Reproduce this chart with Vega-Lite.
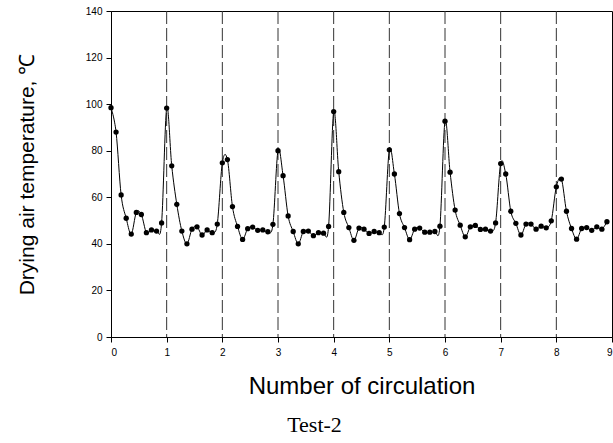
{
  "$schema": "https://vega.github.io/schema/vega-lite/v6.json",
  "width": 501,
  "height": 326,
  "autosize": {"type": "none"},
  "padding": {"left": 111, "top": 11, "right": 1, "bottom": 106},
  "background": "white",
  "config": {
    "view": {"stroke": "black", "strokeWidth": 1},
    "axis": {
      "grid": false,
      "domainColor": "black",
      "tickColor": "black",
      "labelColor": "black",
      "titleColor": "black",
      "labelFont": "Liberation Sans",
      "titleFont": "Liberation Sans",
      "labelFontSize": 10,
      "tickSize": 5,
      "titleFontWeight": "normal"
    }
  },
  "title": {
    "text": "Test-2",
    "orient": "bottom",
    "anchor": "middle",
    "dx": -47,
    "offset": 17,
    "font": "Liberation Serif",
    "fontSize": 22,
    "fontWeight": "normal",
    "color": "black"
  },
  "datasets": {
    "rules": [{"x": 1}, {"x": 2}, {"x": 3}, {"x": 4}, {"x": 5}, {"x": 6}, {"x": 7}, {"x": 8}],
    "temp": [
      {"x": 0, "y": 98.5}, {"x": 0.091, "y": 88}, {"x": 0.182, "y": 61}, {"x": 0.273, "y": 51}, {"x": 0.364, "y": 44.2}, {"x": 0.455, "y": 53.5}, {"x": 0.545, "y": 52.6}, {"x": 0.636, "y": 44.8}, {"x": 0.727, "y": 46}, {"x": 0.818, "y": 45.5}, {"x": 0.909, "y": 49},
      {"x": 1, "y": 98.3}, {"x": 1.091, "y": 73.5}, {"x": 1.182, "y": 57}, {"x": 1.273, "y": 45.5}, {"x": 1.364, "y": 40}, {"x": 1.455, "y": 46.3}, {"x": 1.545, "y": 47.3}, {"x": 1.636, "y": 43.8}, {"x": 1.727, "y": 46}, {"x": 1.818, "y": 44.8}, {"x": 1.909, "y": 48.5},
      {"x": 2, "y": 74.8}, {"x": 2.091, "y": 76.2}, {"x": 2.182, "y": 56}, {"x": 2.273, "y": 47.5}, {"x": 2.364, "y": 41.9}, {"x": 2.455, "y": 46.5}, {"x": 2.545, "y": 47.2}, {"x": 2.636, "y": 45.8}, {"x": 2.727, "y": 46}, {"x": 2.818, "y": 45.2}, {"x": 2.909, "y": 48.4},
      {"x": 3, "y": 80}, {"x": 3.091, "y": 69.3}, {"x": 3.182, "y": 52}, {"x": 3.273, "y": 45.3}, {"x": 3.364, "y": 40}, {"x": 3.455, "y": 45.3}, {"x": 3.545, "y": 45.5}, {"x": 3.636, "y": 43.5}, {"x": 3.727, "y": 44.8}, {"x": 3.818, "y": 44.6}, {"x": 3.909, "y": 47.5},
      {"x": 4, "y": 96.8}, {"x": 4.091, "y": 71}, {"x": 4.182, "y": 53.5}, {"x": 4.273, "y": 47}, {"x": 4.364, "y": 41.5}, {"x": 4.455, "y": 46.8}, {"x": 4.545, "y": 46.3}, {"x": 4.636, "y": 44.5}, {"x": 4.727, "y": 45.3}, {"x": 4.818, "y": 44.8}, {"x": 4.909, "y": 47.2},
      {"x": 5, "y": 80.4}, {"x": 5.091, "y": 70}, {"x": 5.182, "y": 53}, {"x": 5.273, "y": 47}, {"x": 5.364, "y": 41.8}, {"x": 5.455, "y": 46.3}, {"x": 5.545, "y": 46.8}, {"x": 5.636, "y": 45}, {"x": 5.727, "y": 45}, {"x": 5.818, "y": 45.3}, {"x": 5.909, "y": 47.6},
      {"x": 6, "y": 92.7}, {"x": 6.091, "y": 70.8}, {"x": 6.182, "y": 54.5}, {"x": 6.273, "y": 48}, {"x": 6.364, "y": 43}, {"x": 6.455, "y": 47.3}, {"x": 6.545, "y": 47.9}, {"x": 6.636, "y": 46.2}, {"x": 6.727, "y": 46.3}, {"x": 6.818, "y": 45.5}, {"x": 6.909, "y": 49},
      {"x": 7, "y": 74.5}, {"x": 7.091, "y": 70}, {"x": 7.182, "y": 54}, {"x": 7.273, "y": 48.8}, {"x": 7.364, "y": 43.8}, {"x": 7.455, "y": 48.5}, {"x": 7.545, "y": 48.5}, {"x": 7.636, "y": 46.3}, {"x": 7.727, "y": 47.6}, {"x": 7.818, "y": 46.9}, {"x": 7.909, "y": 49.9},
      {"x": 8, "y": 64.5}, {"x": 8.091, "y": 67.8}, {"x": 8.182, "y": 54}, {"x": 8.273, "y": 46.6}, {"x": 8.364, "y": 42}, {"x": 8.455, "y": 46.6}, {"x": 8.545, "y": 47}, {"x": 8.636, "y": 45.8}, {"x": 8.727, "y": 47.3}, {"x": 8.818, "y": 46.3}, {"x": 8.909, "y": 49.5}
    ]
  },
  "layer": [
    {
      "data": {"name": "rules"},
      "mark": {"type": "rule", "strokeDash": [13, 4], "color": "#333333", "strokeWidth": 1},
      "encoding": {
        "x": {"field": "x", "type": "quantitative", "scale": {"domain": [0, 9], "nice": false}, "axis": {"values": [0,1,2,3,4,5,6,7,8,9], "title": "Number of circulation", "titleFontSize": 24, "titlePadding": 17, "labelPadding": 5}}
      }
    },
    {
      "data": {"name": "temp"},
      "mark": {"type": "line", "interpolate": "cardinal", "color": "black", "strokeWidth": 1},
      "encoding": {
        "x": {"field": "x", "type": "quantitative", "scale": {"domain": [0, 9], "nice": false}, "axis": {"values": [0,1,2,3,4,5,6,7,8,9], "title": "Number of circulation", "titleFontSize": 24, "titlePadding": 17, "labelPadding": 5}},
        "y": {"field": "y", "type": "quantitative", "scale": {"domain": [0, 140], "nice": false}, "axis": {"values": [0,20,40,60,80,100,120,140], "title": "Drying air temperature, ℃", "titleFontSize": 21, "titlePadding": 48, "labelPadding": 4}}
      }
    },
    {
      "data": {"name": "temp"},
      "mark": {"type": "point", "filled": true, "color": "black", "size": 28, "opacity": 1},
      "encoding": {
        "x": {"field": "x", "type": "quantitative", "scale": {"domain": [0, 9], "nice": false}, "axis": {"values": [0,1,2,3,4,5,6,7,8,9], "title": "Number of circulation", "titleFontSize": 24, "titlePadding": 17, "labelPadding": 5}},
        "y": {"field": "y", "type": "quantitative", "scale": {"domain": [0, 140], "nice": false}, "axis": {"values": [0,20,40,60,80,100,120,140], "title": "Drying air temperature, ℃", "titleFontSize": 21, "titlePadding": 48, "labelPadding": 4}}
      }
    }
  ]
}
